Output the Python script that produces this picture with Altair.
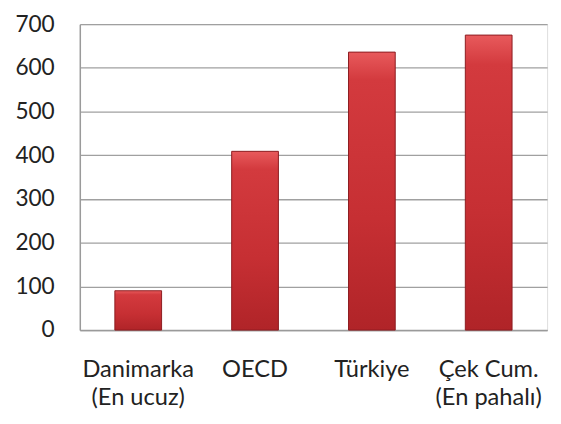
import altair as alt
import pandas as pd

categories = ["Danimarka|(En ucuz)", "OECD", "Türkiye", "Çek Cum.|(En pahalı)"]
values = [90, 409, 636, 675]

df = pd.DataFrame({"ulke": categories, "deger": values})

font = "Lato"

bars = alt.Chart(df).mark_bar(
    stroke="#8c1c20",
    strokeWidth=1,
    color=alt.Gradient(
        gradient="linear",
        stops=[
            alt.GradientStop(color="#e85a5c", offset=0),
            alt.GradientStop(color="#d33a3e", offset=0.1),
            alt.GradientStop(color="#c62f33", offset=0.6),
            alt.GradientStop(color="#b02428", offset=1),
        ],
        x1=0, x2=0, y1=0, y2=1,
    ),
).encode(
    x=alt.X(
        "ulke:N",
        sort=categories,
        scale=alt.Scale(paddingInner=0.6, paddingOuter=0.3),
        axis=alt.Axis(
            title=None,
            labelAngle=0,
            ticks=False,
            labelExpr="split(datum.label, '|')",
            labelFont=font,
            labelFontSize=24,
            labelColor="#222222",
            labelPadding=28,
            labelLineHeight=29,
            domainColor="#9a9a9a",
            domainWidth=1.5,
        ),
    ),
    y=alt.Y(
        "deger:Q",
        scale=alt.Scale(domain=[0, 700], nice=False),
        axis=alt.Axis(
            title=None,
            values=[0, 100, 200, 300, 400, 500, 600, 700],
            ticks=False,
            labelFont=font,
            labelFontSize=23,
            labelColor="#222222",
            labelPadding=26,
            gridColor="#a0a0a0",
            gridWidth=1.3,
            domainColor="#9a9a9a",
            domainWidth=1.5,
        ),
    ),
)

chart = bars.properties(
    width=475,
    height=311,
    autosize=alt.AutoSizeParams(type="none"),
    padding={"left": 73, "top": 13, "right": 6, "bottom": 90},
).configure_view(stroke=None).configure(background="white")

chart.save("out.html", embed_options={"renderer": "svg", "actions": False})
